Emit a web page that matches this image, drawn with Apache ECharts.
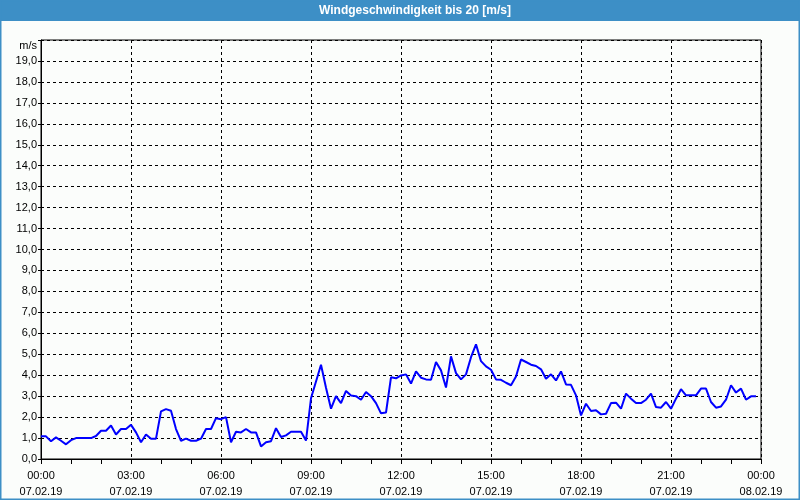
<!DOCTYPE html>
<html><head><meta charset="utf-8">
<script src="https://cdn.jsdelivr.net/npm/echarts@6/dist/echarts.min.js"></script>
<style>html,body{margin:0;padding:0;background:#fbfdfb;}#c{width:800px;height:500px;}</style>
</head><body><div id="c"></div>
<script>
const title = 'Windgeschwindigkeit bis 20 [m/s]';
const yUnit = 'm/s';
const stepMinutes = 10;
const xTickTimes = ['00:00','03:00','06:00','09:00','12:00','15:00','18:00','21:00','00:00'];
const xTickDates = ['07.02.19','07.02.19','07.02.19','07.02.19','07.02.19','07.02.19','07.02.19','07.02.19','08.02.19'];
const speed = [
1.08,1.08,0.85,1.03,0.87,0.7,0.9,1.0,1.0,1.0,1.0,1.1,1.35,1.35,1.6,1.17,1.43,1.43,1.63,1.27,0.8,1.17,0.97,0.97,
2.27,2.38,2.3,1.43,0.87,0.97,0.87,0.87,0.97,1.43,1.43,1.95,1.9,2.0,0.8,1.3,1.27,1.43,1.27,1.27,0.6,0.8,0.85,1.47,
1.05,1.13,1.3,1.3,1.3,0.88,2.9,3.7,4.5,3.4,2.4,3.0,2.67,3.25,3.03,3.0,2.83,3.2,3.0,2.67,2.18,2.22,3.9,3.85,
3.99,4.04,3.6,4.18,3.88,3.8,3.78,4.63,4.23,3.41,4.9,4.1,3.8,4.04,4.86,5.47,4.67,4.42,4.26,3.8,3.78,3.64,3.52,3.94,
4.75,4.63,4.5,4.44,4.28,3.83,4.04,3.75,4.18,3.56,3.54,3.04,2.08,2.64,2.29,2.33,2.13,2.16,2.67,2.69,2.4,3.12,2.88,2.67,
2.67,2.83,3.12,2.48,2.45,2.72,2.4,2.88,3.33,3.04,3.04,3.04,3.36,3.36,2.72,2.45,2.51,2.83,3.52,3.17,3.36,2.83,2.99,2.99
];
const data = speed.map((v,i)=>[i*stepMinutes, v]);
const FONT = 'Liberation Sans';
const chart = echarts.init(document.getElementById('c'), null, {renderer:'canvas'});
chart.setOption({
  animation:false,
  backgroundColor:'#fbfdfb',
  grid:{left:41,right:39,top:40,bottom:40,show:true,borderColor:'#000',borderWidth:1,backgroundColor:'transparent'},
  graphic:[
    {type:'rect',shape:{x:0,y:0,width:800,height:21},style:{fill:'#3d8fc6'},z:10},
    {type:'rect',shape:{x:0.5,y:0.5,width:799,height:499},style:{fill:'none',stroke:'#3d8fc6',lineWidth:2},z:10},
    {type:'text',x:415,y:11,style:{text:title,fill:'#fff',font:'bold 12px "Liberation Sans"',textAlign:'center',textVerticalAlign:'middle'},z:11},
    {type:'text',x:37,y:46,style:{text:yUnit,fill:'#000',font:'11px "Liberation Sans"',textAlign:'right',textVerticalAlign:'middle'},z:11}
  ],
  xAxis:{type:'value',min:0,max:1440,interval:180,
    axisLine:{show:true,lineStyle:{color:'#000',width:1}},
    axisTick:{show:true,length:5,lineStyle:{color:'#000'}},
    minorTick:{show:true,splitNumber:3,length:5,lineStyle:{color:'#000'}},
    splitLine:{show:true,lineStyle:{color:'#000',type:[3,3],width:1}},
    axisLabel:{margin:9,color:'#000',fontFamily:FONT,fontSize:11,lineHeight:16,
      formatter:(v)=>{const k=Math.round(v/180);return xTickTimes[k]+'\n'+xTickDates[k];}}
  },
  yAxis:{type:'value',min:0,max:20,interval:1,
    axisLine:{show:true,lineStyle:{color:'#000',width:1}},
    axisTick:{show:true,length:3,lineStyle:{color:'#000'}},
    splitLine:{show:true,lineStyle:{color:'#000',type:[3,3],width:1}},
    axisLabel:{margin:4,color:'#000',fontFamily:FONT,fontSize:11,
      formatter:(v)=> v>=20?'':v.toFixed(1).replace('.',',')}
  },
  series:[{type:'line',data:data,showSymbol:false,symbol:'none',
    lineStyle:{color:'#0000ff',width:2},z:5}]
});
</script></body></html>
